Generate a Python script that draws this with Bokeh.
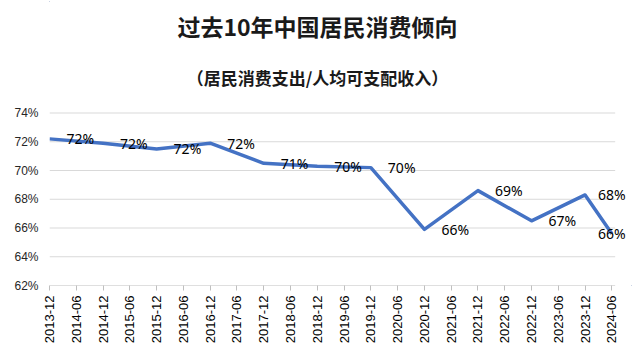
import math
from bokeh.plotting import figure
from bokeh.models import (Range1d, FixedTicker, ColumnDataSource, LabelSet, Label,
                          PrintfTickFormatter)
from bokeh.core.properties import value
from bokeh.embed import file_html
from bokeh.resources import INLINE

# ---- data -------------------------------------------------------------
periods = ["2013-12", "2014-06", "2014-12", "2015-06", "2015-12", "2016-06",
           "2016-12", "2017-06", "2017-12", "2018-06", "2018-12", "2019-06",
           "2019-12", "2020-06", "2020-12", "2021-06", "2021-12", "2022-06",
           "2022-12", "2023-06", "2023-12", "2024-06"]
# consumption propensity (%), only year-end values plus the latest half-year
propensity = [72.2, None, 71.9, None, 71.5, None, 71.9, None, 70.5, None,
              70.3, None, 70.2, None, 65.9, None, 68.6, None, 66.5, None,
              68.3, 65.6]
y_ticks = [62, 64, 66, 68, 70, 72, 74]
title_text = "过去10年中国居民消费倾向"
subtitle_text = "（居民消费支出/人均可支配收入）"

# ---- layout constants (pixels) -----------------------------------------
W, H = 633, 360
LEFT, BOTTOM = 49, 75              # frame starts at x=49, ends 75px above bottom
STEP = 26.78                       # px between categories
PLOT_H = 172.5                     # px from lowest to highest y tick
frame_w = W - LEFT
frame_h = H - BOTTOM
px_per_unit_y = PLOT_H / (y_ticks[-1] - y_ticks[0])

x_end = frame_w / STEP
y_end = y_ticks[0] + frame_h / px_per_unit_y
n_last = len(periods) - 1
grid_end = n_last + 3.3 / STEP     # plot area stops a few px past last point

def y_at(px_from_top):
    return y_ticks[0] + (frame_h - px_from_top) / px_per_unit_y

# ---- derived ----------------------------------------------------------
xs = [i for i, v in enumerate(propensity) if v is not None]
ys = [propensity[i] for i in xs]
labels = ["%d%%" % math.floor(v + 0.5) for v in ys]
# labels sit to the right of the point, pushed back inside the chart at the end
dx = [17] * len(xs)
dx[-2] = 13
dx[-1] = -14
src = ColumnDataSource(dict(x=xs, y=ys, t=labels, dx=dx))

p = figure(width=W, height=H, output_backend="svg", toolbar_location=None,
           x_range=Range1d(0, x_end), y_range=Range1d(y_ticks[0], y_end),
           min_border_left=LEFT, min_border_right=0, min_border_top=0,
           min_border_bottom=BOTTOM, outline_line_color=None,
           background_fill_color="white", border_fill_color="white")
p.styles = {"outline": "1.5px solid #2F5597", "outline-offset": "-2px"}

# grid (drawn as segments so it stops at the plot-area edge)
p.xgrid.grid_line_color = None
p.ygrid.grid_line_color = None
gy = y_ticks[1:]
p.segment(x0=[0] * len(gy), y0=gy, x1=[grid_end] * len(gy), y1=gy,
          line_color="#d9d9d9", line_width=1)
p.segment(x0=[0], y0=[y_ticks[0]], x1=[grid_end], y1=[y_ticks[0]],
          line_color="#bfbfbf", line_width=1)

# y axis
p.yaxis.ticker = FixedTicker(ticks=y_ticks)
p.yaxis.formatter = PrintfTickFormatter(format="%d%%")
p.yaxis.axis_line_color = None
p.yaxis.major_tick_line_color = None
p.yaxis.minor_tick_line_color = None
p.yaxis.major_tick_out = 0
p.yaxis.major_label_standoff = 11
p.yaxis.major_label_text_font = "Liberation Sans"
p.yaxis.major_label_text_font_size = "12px"
p.yaxis.major_label_text_color = "#262626"

# x axis
p.xaxis.ticker = FixedTicker(ticks=list(range(len(periods))))
p.xaxis.major_label_overrides = {i: s for i, s in enumerate(periods)}
p.xaxis.major_label_orientation = math.pi / 2
p.xaxis.axis_line_color = None
p.xaxis.major_tick_line_color = "#bfbfbf"
p.xaxis.minor_tick_line_color = None
p.xaxis.major_tick_in = 0
p.xaxis.major_tick_out = 5
p.xaxis.major_label_standoff = 5
p.xaxis.major_label_text_font = "Liberation Sans"
p.xaxis.major_label_text_font_size = "13px"
p.xaxis.major_label_text_color = "#000000"

# line
p.line("x", "y", source=src, line_color="#4472C4", line_width=3.5,
       line_join="round")

# data labels
p.add_layout(LabelSet(x="x", y="y", text="t", source=src, x_offset="dx",
                      text_align="left", text_baseline="middle",
                      text_font=value("Noto Sans"), text_font_size=value("14px"),
                      text_color="#000000"))

# titles
title_x = (317 - LEFT) / STEP
p.add_layout(Label(x=title_x, y=y_at(25), text=title_text, text_align="center",
                   text_baseline="middle", text_font="Noto Sans CJK SC",
                   text_font_style="bold", text_font_size="23px",
                   text_color="#1a1a1a"))
p.add_layout(Label(x=title_x, y=y_at(77), text=subtitle_text, text_align="center",
                   text_baseline="middle", text_font="Noto Sans CJK SC",
                   text_font_style="bold", text_font_size="17px",
                   text_color="#1a1a1a"))

open("out.html", "w").write(file_html(p, INLINE))
